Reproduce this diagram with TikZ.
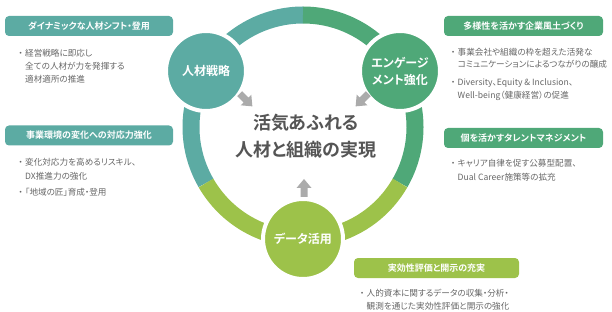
\documentclass[tikz,border=0pt]{standalone}
\usepackage{fontspec}
\setmainfont{Noto Sans CJK JP}[BoldFont={Noto Sans CJK JP Bold}, RawFeature=+palt]
\usetikzlibrary{positioning}
\definecolor{cteal}{HTML}{5CABA3}
\definecolor{cgreen}{HTML}{4FA878}
\definecolor{clime}{HTML}{9DC24A}
\definecolor{cgrey}{HTML}{ABABAB}
\definecolor{ctext}{HTML}{666666}
\definecolor{cdark}{HTML}{555555}
\tikzset{
  hub/.style={circle, fill=#1, draw=white, line width=4pt, minimum size=80pt, inner sep=0pt, text=white, align=center, font=\fontsize{12}{17}\selectfont\bfseries},
  headbox/.style={fill=#1, rounded corners=4pt, text=white, inner sep=0pt, minimum height=20pt, font=\fontsize{9}{11}\selectfont\bfseries},
  item/.style={anchor=north west, inner sep=0pt, align=left, text=ctext, font=\fontsize{8.6}{#1}\selectfont},
  item/.default=13pt,
  ring/.style={draw=#1, line width=17pt},
  goaltext/.style={text=cdark, align=center, font=\fontsize{18}{27}\selectfont\bfseries},
}
\newcommand{\bul}{\makebox[9pt][c]{・}}
\newcommand{\ind}{\hspace*{9pt}}
\newcommand{\pusharrow}[3]{% x, y, direction
  \fill[cgrey, shift={(#1,#2)}, rotate=#3] (-9,-3.5) -- (0,-3.5) -- (0,-7.5) -- (9,0) -- (0,7.5) -- (0,3.5) -- (-9,3.5) -- cycle;
}

\begin{document}
\begin{tikzpicture}[x=1pt, y=-1pt]
  \useasboundingbox (0,0) rectangle (612,312);
  % ring
  \coordinate (c) at (303,127);
  \draw[ring=cteal] (c) ++(150:112) arc[start angle=150, end angle=270, radius=112];
  \draw[ring=cgreen] (c) ++(270:112) arc[start angle=270, end angle=390, radius=112];
  \draw[ring=clime] (c) ++(30:112) arc[start angle=30, end angle=150, radius=112];
  % three hubs
  \node[hub=cteal] (strategy) at (206,71) {人材戦略};
  \node[hub=cgreen] (engage) at (400,71) {エンゲージ\\メント強化};
  \node[hub=clime] (data) at (303,239) {データ活用};
  \node[goaltext] (goal) at (306,136) {活気あふれる\\人材と組織の実現};
  \pusharrow{246}{100}{-45}
  \pusharrow{362}{100}{-135}
  \pusharrow{304}{188}{90}
  % left side
  \node[headbox=cteal, minimum width=168pt] (h1) at (89,26) {ダイナミックな人材シフト・登用};
  \node[item] (t1) at (16,49) {\bul 経営戦略に即応し\\\ind 全ての人材が力を発揮する\\\ind 適材適所の推進};
  \node[headbox=cteal, minimum width=168pt] (h2) at (89,135.5) {事業環境の変化への対応力強化};
  \node[item=14pt] (t2) at (16,158) {\bul 変化対応力を高めるリスキル、\\\ind DX推進力の強化};
  \node[item] (t3) at (16,188) {\bul 「地域の匠」育成・登用};
  % right side
  \node[headbox=cgreen, minimum width=159pt] (h3) at (523.5,26) {多様性を活かす企業風土づくり};
  \node[item=12.5pt] (t4) at (448.5,48) {\bul 事業会社や組織の枠を超えた活発な\\\ind コミュニケーションによるつながりの醸成};
  \node[item] (t5) at (448.5,78) {\bul Diversity、Equity \& Inclusion、\\\ind Well-being（健康経営）の促進};
  \node[headbox=cgreen, minimum width=159pt] (h4) at (523.5,138) {個を活かすタレントマネジメント};
  \node[item=14pt] (t6) at (448.5,159) {\bul キャリア自律を促す公募型配置、\\\ind Dual Career施策等の拡充};
  % bottom
  \node[headbox=clime, minimum width=165pt] (h5) at (436.5,268) {実効性評価と開示の充実};
  \node[item=12.5pt] (t7) at (357.5,289) {\bul 人的資本に関するデータの収集・分析・\\\ind 観測を通じた実効性評価と開示の強化};
\end{tikzpicture}
\end{document}
